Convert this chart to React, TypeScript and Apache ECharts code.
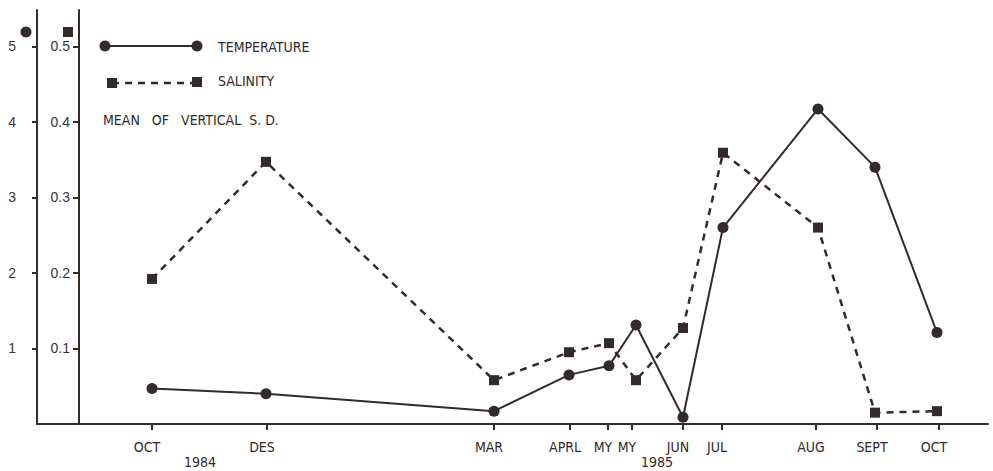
import React, { useEffect, useRef } from "react";
import * as echarts from "echarts";

// x positions (arbitrary horizontal axis units) of sampling dates
const samplePos = [115, 229, 457, 532, 572, 599, 646, 686, 781, 838, 900];
// Temperature: mean of vertical S.D.
const temperature = [0.47, 0.4, 0.17, 0.65, 0.77, 1.31, 0.09, 2.6, 4.17, 3.4, 1.21];
// Salinity: mean of vertical S.D.
const salinity = [0.192, 0.347, 0.058, 0.095, 0.107, 0.058, 0.127, 0.359, 0.26, 0.015, 0.017];

// x-axis tick positions and labels
const tickPos = [115, 230, 457, 533, 571, 595, 646, 685, 779, 840, 902];
const tickLabels = ["OCT", "DES", "MAR", "APRL", "MY", "MY", "JUN", "JUL", "AUG", "SEPT", "OCT"];
const tempTicks = [1, 2, 3, 4, 5];
const salTicks = [0.1, 0.2, 0.3, 0.4, 0.5];
const yearLabels = ["1984", "1985"];

const INK = "#332b29";
const NARROW = "'Liberation Sans Narrow', 'DejaVu Sans Condensed', 'Roboto', sans-serif";
const SANS = "'Liberation Sans', 'DejaVu Sans', sans-serif";

export default function App() {
  const ref = useRef<HTMLDivElement>(null);
  useEffect(() => {
    if (!ref.current) return;
    const chart = echarts.init(ref.current, undefined, { renderer: "svg" });
    const option: any = {
      animation: false,
      backgroundColor: "#ffffff",
      grid: { left: 37, right: 5, top: 10, bottom: 47, containLabel: false },
      xAxis: {
        type: "value",
        min: 0,
        max: 951,
        splitLine: { show: false },
        axisLine: { show: true, onZero: false, lineStyle: { color: INK, width: 2 } },
        axisTick: { show: true, customValues: tickPos, length: 6, lineStyle: { color: INK, width: 2 } },
        axisLabel: {
          customValues: tickPos,
          margin: 16,
          padding: [0, 10, 0, 0],
          fontFamily: NARROW,
          fontSize: 14,
          color: "#2e2a2a",
          formatter: (v: number) => {
            const i = tickPos.indexOf(v);
            return i >= 0 ? tickLabels[i] : "";
          },
        },
      },
      yAxis: [
        {
          type: "value",
          position: "left",
          offset: 0,
          min: 0,
          max: 5.48,
          splitLine: { show: false },
          axisLine: { show: true, onZero: false, lineStyle: { color: INK, width: 2 } },
          axisTick: { show: true, customValues: tempTicks, length: 5, lineStyle: { color: INK, width: 2 } },
          axisLabel: {
            customValues: tempTicks,
            margin: 21,
            fontFamily: SANS,
            fontSize: 14,
            color: "#3a3535",
          },
        },
        {
          type: "value",
          position: "left",
          offset: -42,
          min: 0,
          max: 0.548,
          splitLine: { show: false },
          axisLine: { show: true, onZero: false, lineStyle: { color: INK, width: 2 } },
          axisTick: { show: true, customValues: salTicks, length: 6, lineStyle: { color: INK, width: 2 } },
          axisLabel: {
            customValues: salTicks,
            margin: 9,
            fontFamily: SANS,
            fontSize: 14,
            color: "#3a3535",
            formatter: (v: number) => v.toFixed(1),
          },
        },
      ],
      series: [
        {
          name: "TEMPERATURE",
          type: "line",
          yAxisIndex: 0,
          data: samplePos.map((x, i) => [x, temperature[i]]),
          symbol: "circle",
          symbolSize: 11,
          lineStyle: { color: INK, width: 2 },
          itemStyle: { color: INK },
          z: 3,
        },
        {
          name: "SALINITY",
          type: "line",
          yAxisIndex: 1,
          data: samplePos.map((x, i) => [x, salinity[i]]),
          symbol: "rect",
          symbolSize: 10,
          lineStyle: { color: INK, width: 2.5, type: [7, 6] },
          itemStyle: { color: INK },
          z: 2,
        },
      ],
      graphic: [
        { type: "circle", shape: { cx: 26, cy: 32, r: 5.5 }, style: { fill: INK } },
        { type: "rect", shape: { x: 63, y: 27, width: 10, height: 10 }, style: { fill: INK } },
        // legend: temperature
        { type: "line", shape: { x1: 105, y1: 46, x2: 197, y2: 46 }, style: { stroke: INK, lineWidth: 2 } },
        { type: "circle", shape: { cx: 105, cy: 46, r: 5.5 }, style: { fill: INK } },
        { type: "circle", shape: { cx: 197, cy: 46, r: 5.5 }, style: { fill: INK } },
        {
          type: "text",
          x: 218,
          y: 47,
          style: { text: "TEMPERATURE", fill: "#2e2a2a", font: `14px ${NARROW}`, verticalAlign: "middle" },
        },
        // legend: salinity
        { type: "line", shape: { x1: 112, y1: 83, x2: 197, y2: 83 }, style: { stroke: INK, lineWidth: 2.5, lineDash: [7, 6] } },
        { type: "rect", shape: { x: 107, y: 78, width: 10, height: 10 }, style: { fill: INK } },
        { type: "rect", shape: { x: 192, y: 77, width: 10, height: 10 }, style: { fill: INK } },
        {
          type: "text",
          x: 218,
          y: 81,
          style: { text: "SALINITY", fill: "#2e2a2a", font: `14px ${NARROW}`, verticalAlign: "middle" },
        },
        {
          type: "text",
          x: 103,
          y: 120,
          style: { text: "MEAN   OF   VERTICAL  S. D.", fill: "#2e2a2a", font: `14px ${NARROW}`, verticalAlign: "middle" },
        },
        {
          type: "text",
          x: 200,
          y: 462,
          style: { text: yearLabels[0], fill: "#2e2a2a", font: `14px ${NARROW}`, align: "center", verticalAlign: "middle" },
        },
        {
          type: "text",
          x: 657,
          y: 462,
          style: { text: yearLabels[1], fill: "#2e2a2a", font: `14px ${NARROW}`, align: "center", verticalAlign: "middle" },
        },
      ],
    };
    chart.setOption(option);
    return () => chart.dispose();
  }, []);
  return (
    <div
      ref={ref}
      style={{ position: "fixed", left: 0, top: 0, width: 993, height: 471, background: "#fff" }}
    />
  );
}
